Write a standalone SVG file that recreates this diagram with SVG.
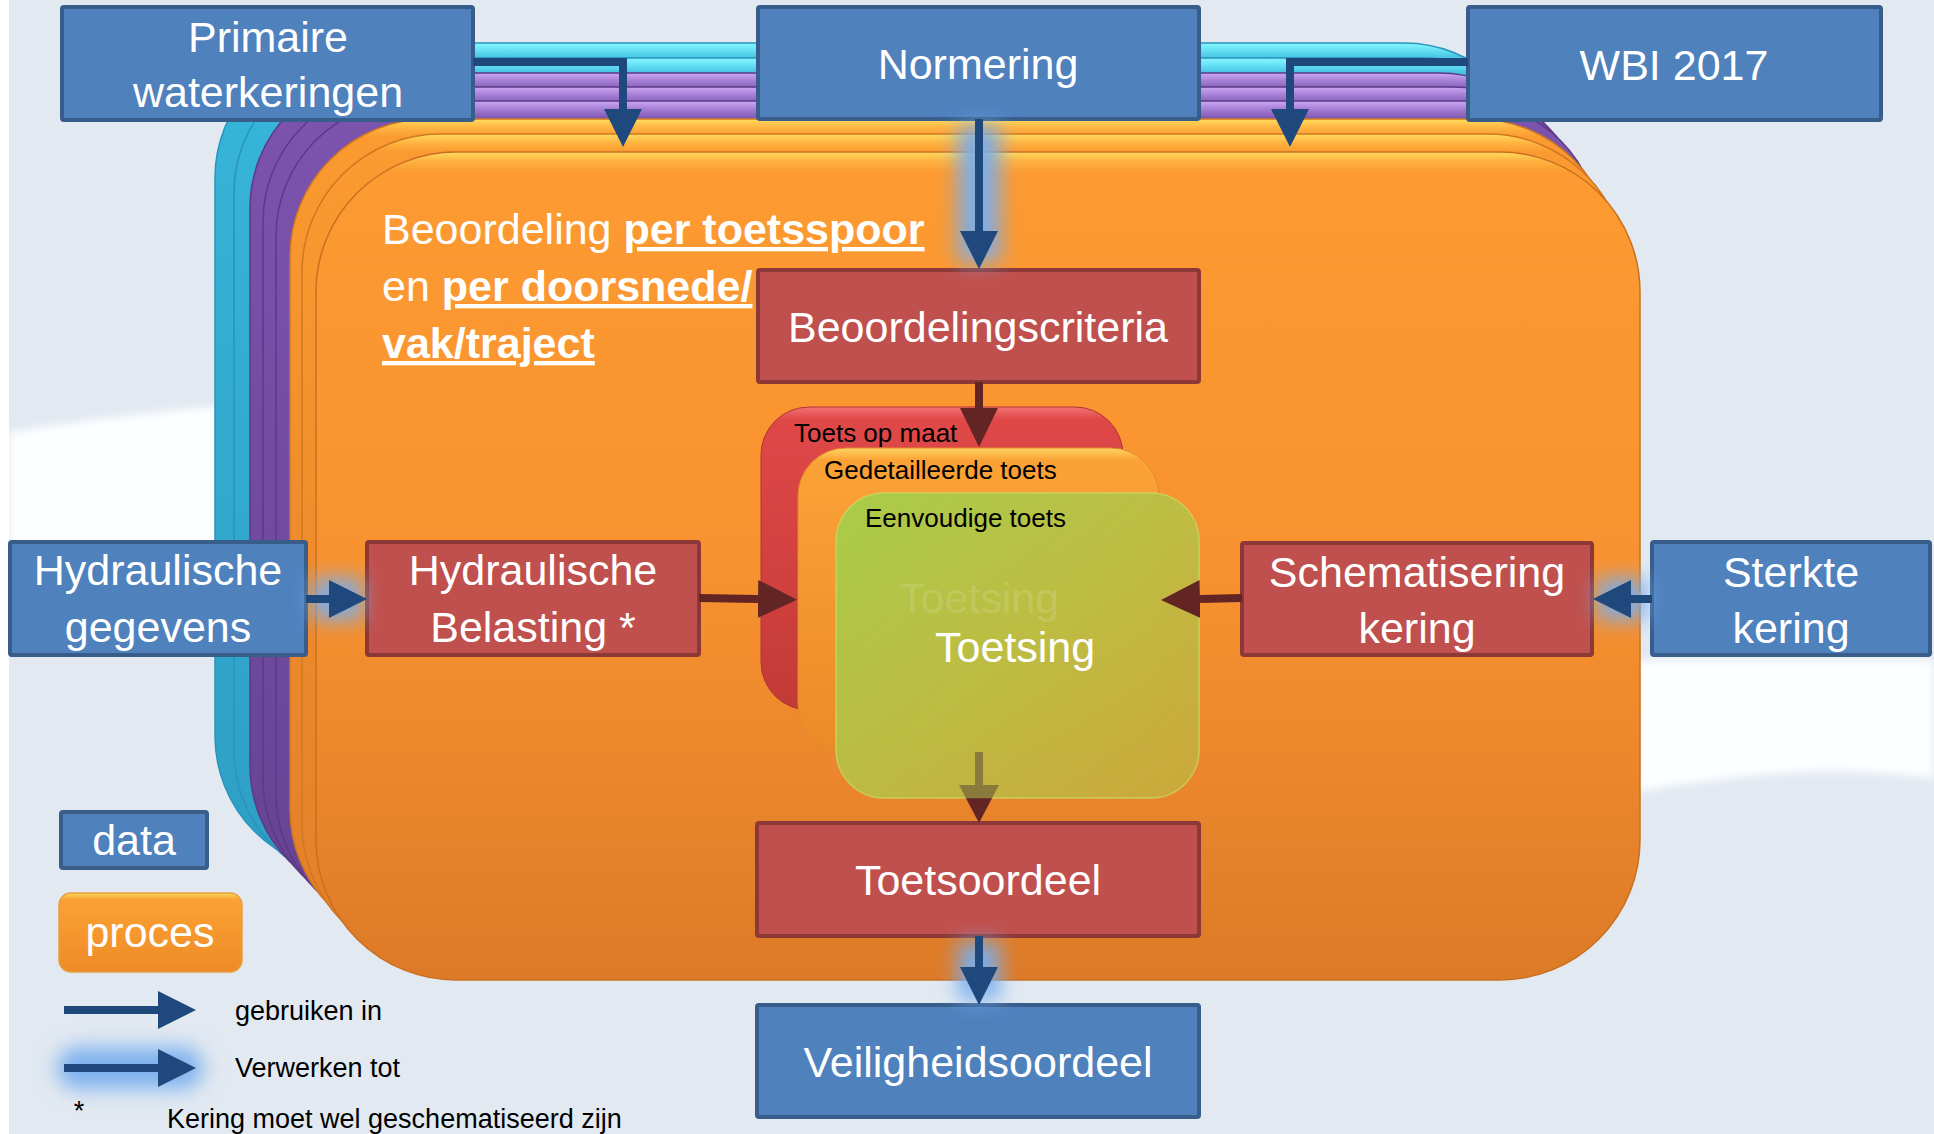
<svg xmlns="http://www.w3.org/2000/svg" width="1934" height="1134" viewBox="0 0 1934 1134">
<defs>
<style>
.data{fill:#4f81bd;stroke:#385d8a;stroke-width:4}
.proc{fill:#c0504d;stroke:#8c3836;stroke-width:4}
.bt{font-family:"Liberation Sans",Arial,sans-serif;font-size:43px;fill:#fff;text-anchor:middle}
.lt{font-family:"Liberation Sans",Arial,sans-serif;font-size:43px;fill:#fff}
.tt{font-family:"Liberation Sans",Arial,sans-serif;font-size:26px;fill:#000}
.lg{font-family:"Liberation Sans",Arial,sans-serif;font-size:27px;fill:#000}
.cb{fill:none;stroke:#1f497d;stroke-width:8}
.cr{fill:none;stroke:#632523;stroke-width:8}
.glow{fill:none;stroke:#79aeee;stroke-width:42;stroke-opacity:0.95;filter:url(#blur)}
</style>
<filter id="blur" filterUnits="userSpaceOnUse" x="0" y="0" width="1934" height="1134"><feGaussianBlur stdDeviation="10"/></filter>
<filter id="soft" filterUnits="userSpaceOnUse" x="0" y="300" width="1934" height="600"><feGaussianBlur stdDeviation="4"/></filter>
<linearGradient id="gCyan" x1="0" y1="0" x2="0" y2="1"><stop offset="0" stop-color="#86f7ff"/><stop offset="0.01" stop-color="#62dcf4"/><stop offset="0.022" stop-color="#37b5da"/><stop offset="1" stop-color="#2e9ec4"/></linearGradient>
<linearGradient id="gPurple" x1="0" y1="0" x2="0" y2="1"><stop offset="0" stop-color="#cda8f4"/><stop offset="0.01" stop-color="#a47dd4"/><stop offset="0.022" stop-color="#7c53ad"/><stop offset="1" stop-color="#674393"/></linearGradient>
<linearGradient id="gOrange" x1="0" y1="0" x2="0" y2="1"><stop offset="0" stop-color="#ffdc60"/><stop offset="0.01" stop-color="#ffb642"/><stop offset="0.022" stop-color="#fb9a30"/><stop offset="1" stop-color="#e27e28"/></linearGradient>
<linearGradient id="gMain" x1="0" y1="0" x2="0" y2="1"><stop offset="0" stop-color="#ffdc60"/><stop offset="0.01" stop-color="#ffb442"/><stop offset="0.025" stop-color="#fd9a31"/><stop offset="0.5" stop-color="#f89230"/><stop offset="1" stop-color="#dd7a27"/></linearGradient>
<linearGradient id="gRed" x1="0" y1="0" x2="0" y2="1"><stop offset="0" stop-color="#f47272"/><stop offset="0.04" stop-color="#e04848"/><stop offset="1" stop-color="#c23a36"/></linearGradient>
<linearGradient id="gTOr" x1="0" y1="0" x2="0" y2="1"><stop offset="0" stop-color="#ffd562"/><stop offset="0.04" stop-color="#fba236"/><stop offset="1" stop-color="#ec8a28"/></linearGradient>
<linearGradient id="gGreen" x1="0" y1="0" x2="1" y2="1"><stop offset="0" stop-color="#9ed24c"/><stop offset="0.5" stop-color="#b6c246"/><stop offset="1" stop-color="#c8ac3c"/></linearGradient>
<linearGradient id="gProc" x1="0" y1="0" x2="0" y2="1"><stop offset="0" stop-color="#ffd85a"/><stop offset="0.08" stop-color="#fba234"/><stop offset="1" stop-color="#ee8a26"/></linearGradient>
<linearGradient id="gHead" x1="0" y1="785" x2="0" y2="823" gradientUnits="userSpaceOnUse"><stop offset="0" stop-color="#8a7a3c"/><stop offset="0.34" stop-color="#8a7a3c"/><stop offset="0.36" stop-color="#632523"/><stop offset="1" stop-color="#632523"/></linearGradient>
<marker id="ab" markerUnits="userSpaceOnUse" markerWidth="40" markerHeight="40" refX="0" refY="19" orient="auto"><path d="M0,0 L38,19 L0,38 Z" fill="#1f497d"/></marker>
<marker id="ar" markerUnits="userSpaceOnUse" markerWidth="42" markerHeight="40" refX="0" refY="19" orient="auto"><path d="M0,0 L39,19 L0,38 Z" fill="#632523"/></marker>
</defs>

<g id="background">
<rect x="0" y="0" width="1934" height="1134" fill="#ffffff"/>
<rect x="9" y="0" width="1925" height="1134" fill="#e2e9f1"/>
<path d="M9,432 C80,421 150,412 220,406 L220,548 L9,548 Z" fill="#fdfeff" filter="url(#soft)"/>
<path d="M1636,660 L1934,660 L1934,779 C1880,771 1820,769 1760,775 C1710,780 1670,786 1636,792 Z" fill="#fdfeff" filter="url(#soft)"/>
</g>

<g id="process-stack">
<rect x="215" y="43" width="1324" height="828" rx="135" fill="url(#gCyan)" stroke="#2a93bb" stroke-width="1.5"/>
<rect x="234" y="58" width="1324" height="828" rx="135" fill="url(#gCyan)" stroke="#2a93bb" stroke-width="1.5"/>
<rect x="250" y="73" width="1324" height="828" rx="135" fill="url(#gPurple)" stroke="#5c3a88" stroke-width="1.5"/>
<rect x="263" y="87" width="1324" height="828" rx="135" fill="url(#gPurple)" stroke="#5c3a88" stroke-width="1.5"/>
<rect x="276" y="101" width="1324" height="828" rx="135" fill="url(#gPurple)" stroke="#5c3a88" stroke-width="1.5"/>
<rect x="290" y="119" width="1324" height="828" rx="138" fill="url(#gOrange)" stroke="#cf7822" stroke-width="1.5"/>
<rect x="302" y="134" width="1324" height="828" rx="138" fill="url(#gOrange)" stroke="#cf7822" stroke-width="1.5"/>
<rect x="316" y="152" width="1324" height="828" rx="140" fill="url(#gMain)" stroke="#c97020" stroke-width="1.5"/>
<text class="lt" x="382" y="244">Beoordeling <tspan font-weight="bold" text-decoration="underline">per toetsspoor</tspan></text>
<text class="lt" x="382" y="301">en <tspan font-weight="bold" text-decoration="underline">per doorsnede/</tspan></text>
<text class="lt" x="382" y="358"><tspan font-weight="bold" text-decoration="underline">vak/traject</tspan></text>
</g>

<g id="n-toetsing">
<rect x="761" y="407" width="362" height="303" rx="48" fill="url(#gRed)" stroke="#b13232" stroke-width="1"/>
<text class="tt" x="794" y="442">Toets op maat</text>
<rect x="798" y="448" width="361" height="304" rx="48" fill="url(#gTOr)" stroke="#e08a2a" stroke-width="1"/>
<text class="tt" x="824" y="479">Gedetailleerde toets</text>
<rect x="836" y="493" width="363" height="305" rx="48" fill="url(#gGreen)" fill-opacity="0.88" stroke="#c6e06a" stroke-opacity="0.7" stroke-width="1.5"/>
<text class="tt" x="865" y="527">Eenvoudige toets</text>
<text class="lt" x="899" y="613" font-size="41" fill-opacity="0.14">Toetsing</text>
<text class="lt" x="935" y="662" font-size="41">Toetsing</text>
</g>

<g id="n-primaire"><rect class="data" x="62" y="7" width="411" height="113" rx="2"/><text class="bt" x="268" y="52">Primaire</text><text class="bt" x="268" y="107">waterkeringen</text></g>
<g id="n-normering"><rect class="data" x="758" y="7" width="441" height="112" rx="2"/><text class="bt" x="978" y="79">Normering</text></g>
<g id="n-wbi"><rect class="data" x="1468" y="7" width="413" height="113" rx="2"/><text class="bt" x="1674" y="80">WBI 2017</text></g>
<g id="n-beoordelingscriteria"><rect class="proc" x="758" y="270" width="441" height="112" rx="2"/><text class="bt" x="978" y="342">Beoordelingscriteria</text></g>
<g id="n-hydraulische-gegevens"><rect class="data" x="10" y="542" width="296" height="113" rx="2"/><text class="bt" x="158" y="585">Hydraulische</text><text class="bt" x="158" y="642">gegevens</text></g>
<g id="n-hydraulische-belasting"><rect class="proc" x="367" y="542" width="332" height="113" rx="2"/><text class="bt" x="533" y="585">Hydraulische</text><text class="bt" x="533" y="642">Belasting *</text></g>
<g id="n-schematisering"><rect class="proc" x="1242" y="543" width="350" height="112" rx="2"/><text class="bt" x="1417" y="587">Schematisering</text><text class="bt" x="1417" y="643">kering</text></g>
<g id="n-sterkte"><rect class="data" x="1652" y="542" width="278" height="113" rx="2"/><text class="bt" x="1791" y="587">Sterkte</text><text class="bt" x="1791" y="643">kering</text></g>
<g id="n-toetsoordeel"><rect class="proc" x="757" y="823" width="442" height="113" rx="2"/><text class="bt" x="978" y="895">Toetsoordeel</text></g>
<g id="n-veiligheidsoordeel"><rect class="data" x="757" y="1005" width="442" height="112" rx="2"/><text class="bt" x="978" y="1077">Veiligheidsoordeel</text></g>

<g id="legend">
<rect class="data" x="61" y="812" width="146" height="56" rx="2"/><text class="bt" x="134" y="855">data</text>
<rect x="59" y="893" width="183" height="79" rx="12" fill="url(#gProc)" stroke="#e5a040" stroke-width="1.5"/><text class="bt" x="150" y="947">proces</text>
<path class="cb" d="M64,1010 L158,1010" marker-end="url(#ab)"/>
<text class="lg" x="235" y="1020">gebruiken in</text>
<path class="glow" d="M78,1068 L182,1068" stroke-width="58" stroke-linecap="round"/>
<path class="cb" d="M64,1068 L158,1068" marker-end="url(#ab)"/>
<text class="lg" x="235" y="1077">Verwerken tot</text>
<text class="lg" x="79" y="1120" font-size="30" text-anchor="middle">*</text>
<text class="lg" x="167" y="1128">Kering moet wel geschematiseerd zijn</text>
</g>

<g id="connectors">
<path class="glow" d="M979,125 L979,262"/>
<path class="glow" d="M312,599 L362,599"/>
<path class="glow" d="M1646,599 L1598,599"/>
<path class="glow" d="M979,942 L979,1000"/>
<path class="cb" d="M473,62 L623,62 L623,109" marker-end="url(#ab)"/>
<path class="cb" d="M1468,62 L1290,62 L1290,109" marker-end="url(#ab)"/>
<path class="cb" d="M979,119 L979,231" marker-end="url(#ab)"/>
<path class="cr" d="M979,382 L979,408" marker-end="url(#ar)"/>
<path class="cb" d="M306,599 L329,599" marker-end="url(#ab)"/>
<path class="cr" d="M699,598 L758,599" marker-end="url(#ar)"/>
<path class="cr" d="M1242,598 L1200,599" marker-end="url(#ar)"/>
<path class="cb" d="M1652,599 L1631,599" marker-end="url(#ab)"/>
<path d="M979,752 L979,786" fill="none" stroke="#8a7a3c" stroke-width="8"/>
<path d="M959,785 L999,785 L979,823 Z" fill="url(#gHead)"/>
<path class="cb" d="M979,936 L979,967" marker-end="url(#ab)"/>
</g>
</svg>
